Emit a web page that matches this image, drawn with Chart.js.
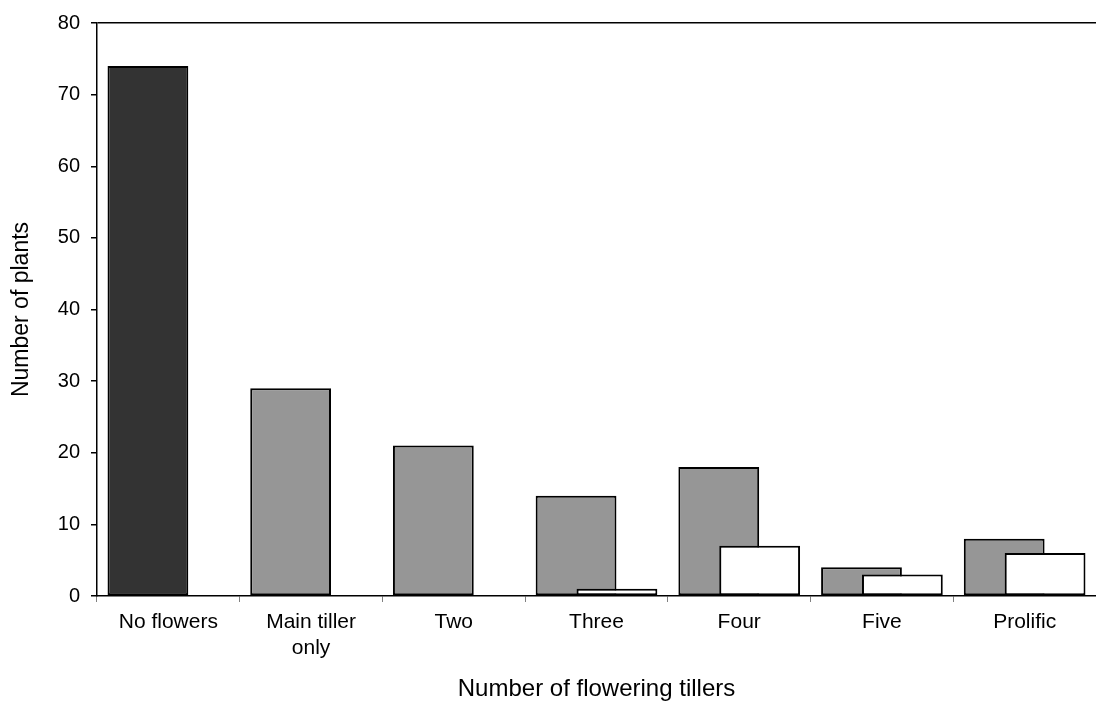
<!DOCTYPE html>
<html>
<head>
<meta charset="utf-8">
<script src="https://cdn.jsdelivr.net/npm/chart.js@4"></script>
<style>
  body { margin: 0; background: #fff; }
</style>
</head>
<body>
<canvas id="tillerChart" width="1096" height="707"></canvas>
<script>
// Chart data
const categories = ['No flowers', ['Main tiller', 'only'], 'Two', 'Three', 'Four', 'Five', 'Prolific'];
const noFlowerValues = [74, null, null, null, null, null, null];
const greyValues = [null, 29, 21, 14, 18, 4, 8];
const whiteValues = [null, null, null, 1, 7, 3, 6];
const yTicks = [0, 10, 20, 30, 40, 50, 60, 70, 80];

const FONT = 'Liberation Sans, Arial, sans-serif';

document.addEventListener('DOMContentLoaded', function() {
    const ctx = document.getElementById('tillerChart').getContext('2d');

    const barStyle = {
        borderColor: '#000',
        borderWidth: 2,
        borderSkipped: false,
        categoryPercentage: 0.573,
        barPercentage: 1.976
    };

    new Chart(ctx, {
        type: 'bar',
        data: {
            labels: categories,
            datasets: [
                // empty placeholder so the left slot is created first
                { label: '', data: [], stack: 'left', order: 0 },
                Object.assign({ label: 'white', data: whiteValues, backgroundColor: '#ffffff', stack: 'right', order: 1 }, barStyle),
                Object.assign({ label: 'grey', data: greyValues, backgroundColor: '#969696', stack: 'left', order: 2 }, barStyle),
                Object.assign({ label: 'none', data: noFlowerValues, backgroundColor: '#333333', stack: 'left', order: 3 }, barStyle)
            ]
        },
        options: {
            responsive: false,
            animation: false,
            layout: { padding: { left: 0, right: 0, top: 9, bottom: 0 } },
            plugins: {
                legend: { display: false },
                tooltip: { enabled: false }
            },
            scales: {
                x: {
                    grid: {
                        drawOnChartArea: false,
                        color: '#808080',
                        tickLength: 6
                    },
                    border: { color: '#000', width: 1.5 },
                    ticks: {
                        color: '#000',
                        font: { family: FONT, size: 21 },
                        padding: 8,
                        maxRotation: 0,
                        autoSkip: false
                    },
                    title: {
                        display: true,
                        text: 'Number of flowering tillers',
                        color: '#000',
                        font: { family: FONT, size: 24 },
                        padding: { top: 0, bottom: 3 }
                    },
                    afterFit: function(axis) { axis.height = 111; }
                },
                y: {
                    min: 0,
                    max: 80,
                    afterBuildTicks: function(axis) {
                        axis.ticks = yTicks.map(v => ({ value: v }));
                    },
                    grid: {
                        color: function(c) { return c.tick && c.tick.value === 80 ? '#000' : 'rgba(0,0,0,0)'; },
                        tickColor: '#000',
                        tickLength: 6,
                        lineWidth: 1.5
                    },
                    border: { color: '#000', width: 1.5 },
                    ticks: {
                        color: '#000',
                        font: { family: FONT, size: 20 },
                        padding: 11
                    },
                    title: {
                        display: true,
                        text: 'Number of plants',
                        color: '#000',
                        font: { family: FONT, size: 23 },
                        padding: { top: 8, bottom: 0 }
                    },
                    afterFit: function(axis) { axis.width = 97; }
                }
            }
        }
    });
});
</script>
</body>
</html>
